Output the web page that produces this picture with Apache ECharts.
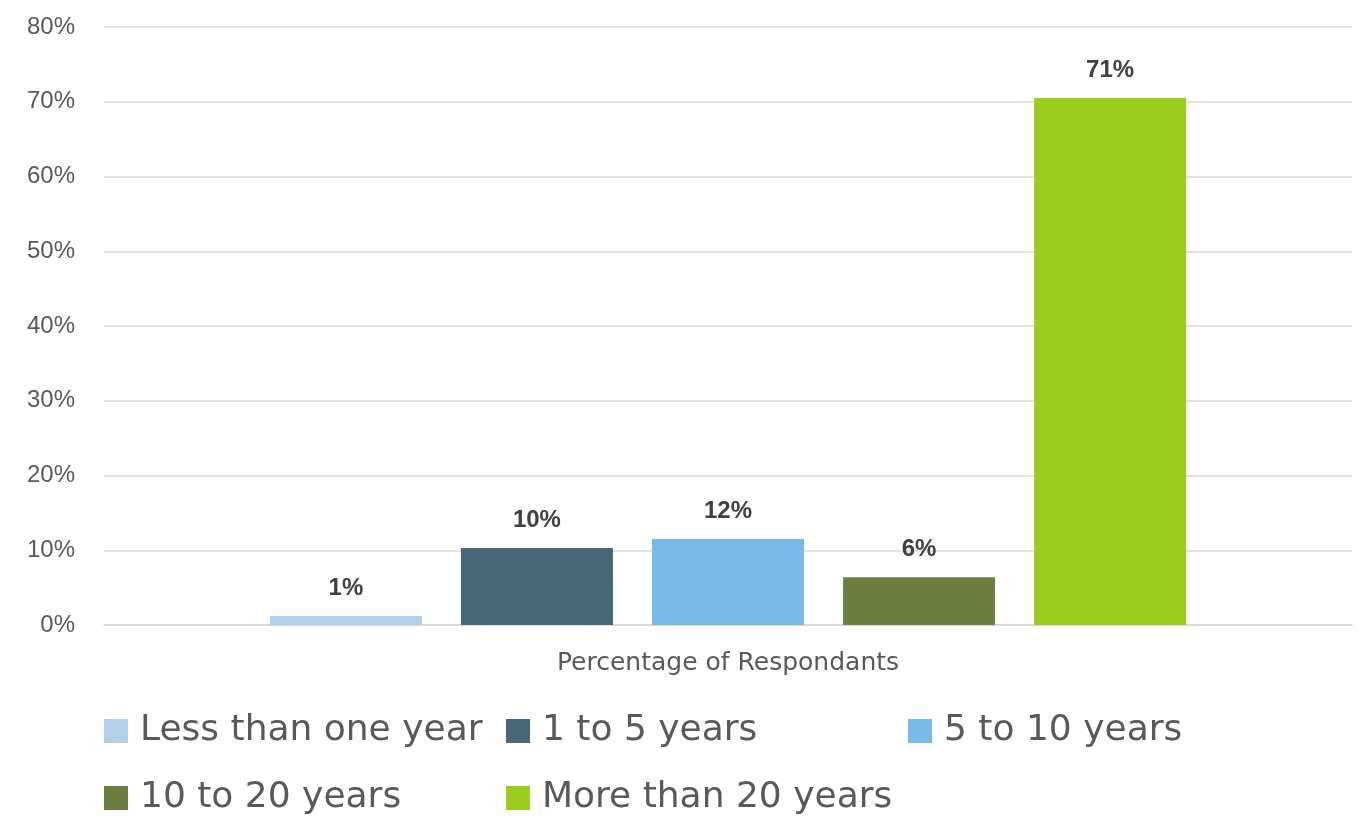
<!DOCTYPE html>
<html>
<head>
<meta charset="utf-8">
<script src="https://cdn.jsdelivr.net/npm/echarts@6/dist/echarts.min.js"></script>
<style>html,body{margin:0;padding:0;background:#fff}#c{width:1359px;height:822px}</style>
</head>
<body>
<div id="c"></div>
<script>
const categories = ['Percentage of Respondants'];
const seriesNames = ['Less than one year', '1 to 5 years', '5 to 10 years', '10 to 20 years', 'More than 20 years'];
const seriesValues = [1.2, 10.3, 11.5, 6.4, 70.5];
const colors = ['#B4CFE8', '#476778', '#78BBE8', '#6A7F40', '#9BCD1F'];
const yTicks = { min: 0, max: 80, interval: 10 };

const legendPos = [
  { left: 104, top: 713 },
  { left: 506, top: 713 },
  { left: 908, top: 713 },
  { left: 104, top: 780 },
  { left: 506, top: 780 }
];

const ARIAL = "'Liberation Sans', Arial, Helvetica, sans-serif";
const WIDE = "'DejaVu Sans', sans-serif";

const chart = echarts.init(document.getElementById('c'));
chart.setOption({
  animation: false,
  grid: { left: 104, right: 7, top: 27, bottom: 197, containLabel: false },
  xAxis: {
    type: 'category',
    data: categories,
    axisLine: { show: true, lineStyle: { color: '#d9d9d9', width: 1.5 } },
    axisTick: { show: false },
    axisLabel: { color: '#595959', fontFamily: WIDE, fontSize: 25, margin: 26 }
  },
  yAxis: {
    type: 'value',
    min: yTicks.min, max: yTicks.max, interval: yTicks.interval,
    axisLine: { show: false },
    axisTick: { show: false },
    splitLine: { lineStyle: { color: '#d9d9d9', width: 1.5 } },
    axisLabel: { formatter: '{value}%', color: '#595959', fontFamily: ARIAL, fontSize: 24, margin: 29 }
  },
  legend: seriesNames.map((n, i) => ({
    data: [n],
    left: legendPos[i].left,
    top: legendPos[i].top,
    icon: 'rect',
    itemWidth: 24,
    itemHeight: 24,
    selectedMode: false,
    padding: 0,
    textStyle: { color: '#595959', fontFamily: WIDE, fontSize: 36, padding: [0, 0, 0, 7] }
  })),
  series: seriesNames.map((n, i) => ({
    name: n,
    type: 'bar',
    data: [seriesValues[i]],
    barWidth: 152,
    barGap: '25.7%',
    itemStyle: { color: colors[i] },
    label: {
      show: true,
      position: 'top',
      distance: 16,
      formatter: p => Math.round(p.value) + '%',
      color: '#404040',
      fontWeight: 'bold',
      fontFamily: ARIAL,
      fontSize: 24
    }
  }))
});
</script>
</body>
</html>
